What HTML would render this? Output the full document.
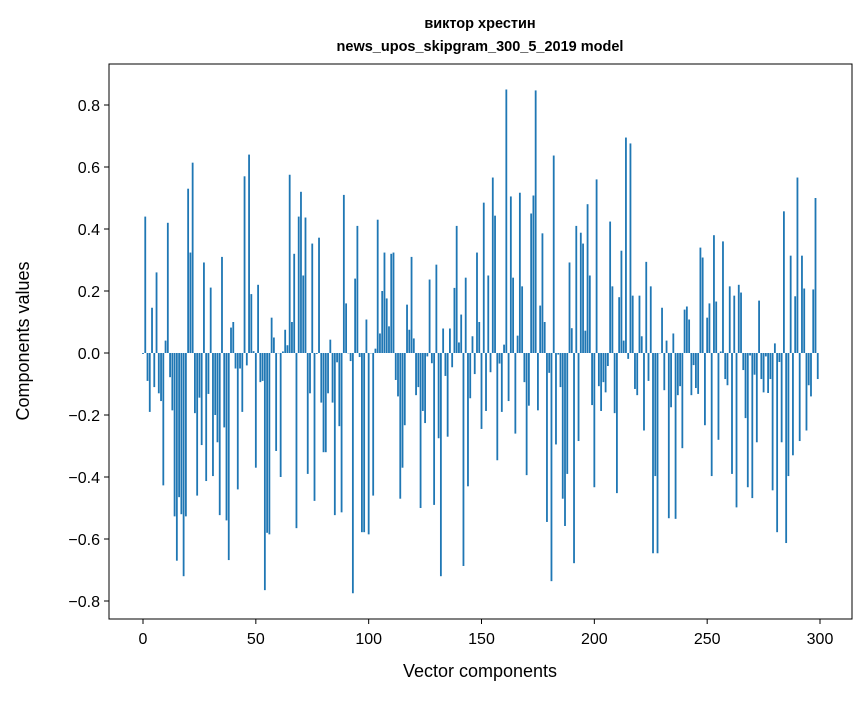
<!DOCTYPE html>
<html><head><meta charset="utf-8"><style>
body{margin:0;background:#fff;}
svg text{font-family:"Liberation Sans","DejaVu Sans",sans-serif;fill:#000;}
</style></head><body>
<svg id="chart" width="867" height="696" xmlns="http://www.w3.org/2000/svg">
<rect width="867" height="696" fill="#fff"/>
<text x="480" y="28" text-anchor="middle" font-size="14.5" font-weight="bold">виктор хрестин</text>
<text x="480" y="51" text-anchor="middle" font-size="14.5" font-weight="bold">news_upos_skipgram_300_5_2019 model</text>
<g id="bars"></g>
<g id="axes"></g>
<rect x="109" y="64" width="743" height="555" fill="none" stroke="#000" stroke-width="1"/>
<text x="480" y="677" text-anchor="middle" font-size="18">Vector components</text>
<text transform="translate(29,341) rotate(-90)" text-anchor="middle" font-size="18">Components values</text>
</svg>
<script>
const values = [
-0.003,0.44,-0.09,-0.19,0.146,-0.11,0.26,-0.13,-0.155,-0.427,
0.04,0.42,-0.078,-0.185,-0.527,-0.67,-0.465,-0.52,-0.72,-0.527,
0.53,0.324,0.614,-0.194,-0.46,-0.144,-0.297,0.292,-0.413,-0.132,
0.211,-0.397,-0.2,-0.288,-0.523,0.31,-0.24,-0.54,-0.668,0.082,
0.1,-0.05,-0.44,-0.05,-0.19,0.57,-0.04,0.64,0.19,0.006,
-0.37,0.22,-0.094,-0.09,-0.765,-0.58,-0.585,0.114,0.05,-0.316,
0.0,-0.40,0.005,0.075,0.025,0.575,0.1,0.32,-0.565,0.44,
0.52,0.25,0.437,-0.39,-0.13,0.353,-0.477,-0.003,0.372,-0.16,
-0.32,-0.32,-0.13,0.043,-0.16,-0.523,-0.03,-0.236,-0.514,0.51,
0.16,0.0,-0.026,-0.775,0.24,0.41,-0.013,-0.578,-0.578,0.108,
-0.585,0.0,-0.46,0.014,0.43,0.063,0.2,0.324,0.176,0.086,
0.32,0.324,-0.087,-0.14,-0.47,-0.37,-0.233,0.156,0.075,0.31,
0.047,-0.136,-0.11,-0.5,-0.187,-0.226,-0.011,0.237,-0.033,-0.49,
0.285,-0.275,-0.72,0.079,-0.074,-0.27,0.079,-0.046,0.21,0.41,
0.034,0.124,-0.687,0.243,-0.43,-0.146,0.054,-0.068,0.324,0.1,
-0.245,0.485,-0.187,0.25,-0.062,0.566,0.443,-0.346,-0.034,-0.19,
0.027,0.85,-0.155,0.505,0.243,-0.26,0.056,0.517,0.215,-0.094,
-0.394,-0.17,0.45,0.508,0.847,-0.185,0.153,0.386,0.1,-0.545,
-0.064,-0.736,0.637,-0.295,-0.005,-0.11,-0.47,-0.558,-0.39,0.292,
0.08,-0.678,0.41,-0.284,0.388,0.353,0.072,0.48,0.25,-0.168,
-0.433,0.56,-0.107,-0.187,-0.094,-0.127,-0.042,0.424,0.215,-0.194,
-0.452,0.18,0.33,0.04,0.695,-0.019,0.676,0.185,-0.116,-0.136,
0.185,0.054,-0.25,0.294,-0.09,0.215,-0.646,-0.397,-0.646,0.0,
0.146,-0.12,0.04,-0.533,-0.175,0.063,-0.535,-0.136,-0.107,-0.307,
0.14,0.15,0.108,-0.136,-0.039,-0.113,-0.132,0.34,0.308,-0.233,
0.114,0.16,-0.397,0.38,0.166,-0.28,0.005,0.36,-0.084,-0.104,
0.215,-0.39,0.185,-0.498,0.22,0.195,-0.055,-0.21,-0.433,-0.008,
-0.468,-0.07,-0.288,0.169,-0.084,-0.127,-0.011,-0.129,-0.084,-0.443,
0.031,-0.578,-0.029,-0.288,0.457,-0.613,-0.397,0.314,-0.33,0.183,
0.566,-0.284,0.314,0.208,-0.25,-0.104,-0.14,0.205,0.5,-0.084
];
const xTicks = [0,50,100,150,200,250,300];
const yTicks = [-0.8,-0.6,-0.4,-0.2,0.0,0.2,0.4,0.6,0.8];

const NS = "http://www.w3.org/2000/svg";
function xScale(v){ return 143 + 2.2567*v; }
function yScale(v){ return 353 - 310*v; }
const bars = document.getElementById('bars');
values.forEach((v,i)=>{
  const r = document.createElementNS(NS,'rect');
  const w = 0.8*2.2567;
  r.setAttribute('x', xScale(i)-w/2);
  r.setAttribute('width', w);
  r.setAttribute('y', Math.min(yScale(v), yScale(0)));
  r.setAttribute('height', Math.max(Math.abs(yScale(v)-yScale(0)),0.3));
  r.setAttribute('fill','#1f77b4');
  
  
  bars.appendChild(r);
});
const axes = document.getElementById('axes');
xTicks.forEach(t=>{
  const x = xScale(t);
  const l = document.createElementNS(NS,'line');
  l.setAttribute('x1',x); l.setAttribute('x2',x); l.setAttribute('y1',619); l.setAttribute('y2',624);
  l.setAttribute('stroke','#000');
  
  
  axes.appendChild(l);
  const tx = document.createElementNS(NS,'text');
  tx.setAttribute('x',x); tx.setAttribute('y',644); tx.setAttribute('text-anchor','middle'); tx.setAttribute('font-size','16');
  tx.textContent = String(t);
  
  
  axes.appendChild(tx);
});
yTicks.forEach(t=>{
  const y = yScale(t);
  const l = document.createElementNS(NS,'line');
  l.setAttribute('x1',104); l.setAttribute('x2',109); l.setAttribute('y1',y); l.setAttribute('y2',y);
  l.setAttribute('stroke','#000');
  
  
  axes.appendChild(l);
  const tx = document.createElementNS(NS,'text');
  tx.setAttribute('x',100); tx.setAttribute('y',y+6); tx.setAttribute('text-anchor','end'); tx.setAttribute('font-size','16');
  tx.textContent = (t<0?'\u2212':'') + Math.abs(t).toFixed(1);
  
  
  axes.appendChild(tx);
});
</script>
</body></html>
